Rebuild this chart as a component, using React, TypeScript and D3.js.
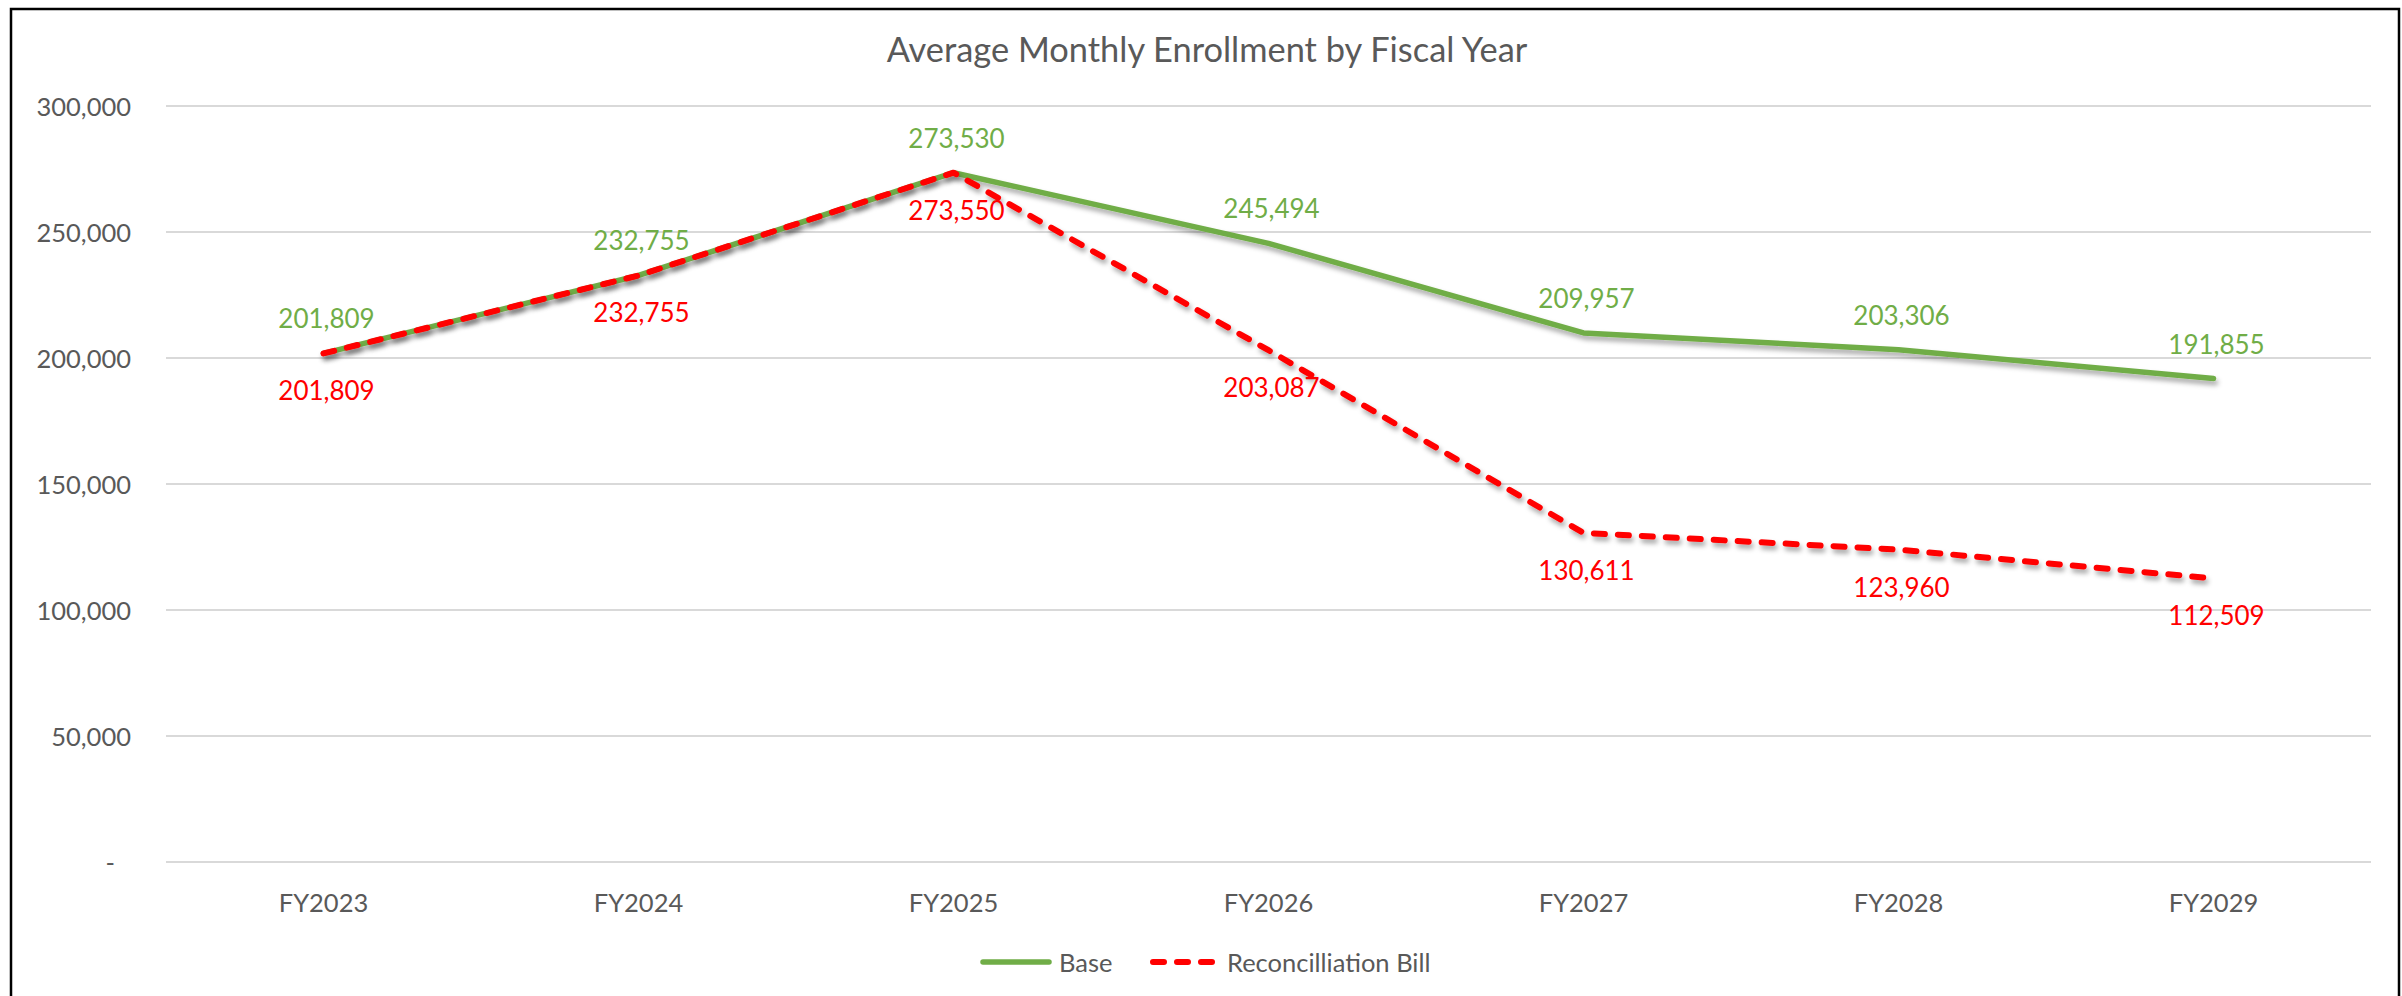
import { useEffect, useRef } from 'react';
import * as d3 from 'd3';

const years = ['FY2023', 'FY2024', 'FY2025', 'FY2026', 'FY2027', 'FY2028', 'FY2029'];
const baseValues = [201809, 232755, 273530, 245494, 209957, 203306, 191855];
const reconValues = [201809, 232755, 273550, 203087, 130611, 123960, 112509];
const yTicks = [0, 50000, 100000, 150000, 200000, 250000, 300000];

const GREEN = '#70AD47';
const RED = '#FF0000';
const TEXT = '#595959';
const FONT = 'Lato, "Open Sans", sans-serif';

const App = () => {
  const ref = useRef<SVGSVGElement | null>(null);
  const width = 2402;
  const height = 996;

  useEffect(() => {
    if (!ref.current) return;
    const svg = d3.select(ref.current);
    svg.selectAll('*').remove();

    const margin = { top: 106, right: 31, bottom: 134, left: 166 };
    const innerWidth = width - margin.left - margin.right;
    const innerHeight = height - margin.top - margin.bottom;

    const defs = svg.append('defs');
    const shadow = defs
      .append('filter')
      .attr('id', 'shadow')
      .attr('x', '-10%')
      .attr('y', '-10%')
      .attr('width', '120%')
      .attr('height', '130%');
    shadow
      .append('feDropShadow')
      .attr('dx', 2)
      .attr('dy', 4)
      .attr('stdDeviation', 2.5)
      .attr('flood-color', '#000')
      .attr('flood-opacity', 0.35);

    svg.append('rect').attr('width', width).attr('height', height).attr('fill', '#fff');

    // chart frame
    svg
      .append('rect')
      .attr('x', 11)
      .attr('y', 9)
      .attr('width', 2388)
      .attr('height', 1010)
      .attr('fill', 'none')
      .attr('stroke', '#000')
      .attr('stroke-width', 2.5);

    const g = svg.append('g').attr('transform', `translate(${margin.left},${margin.top})`);

    const x = d3.scaleBand().domain(years).range([0, innerWidth]);
    const y = d3.scaleLinear().domain([0, 300000]).range([innerHeight, 0]);
    const cx = (d: string) => (x(d) ?? 0) + x.bandwidth() / 2;

    // gridlines
    g.append('g')
      .selectAll('line')
      .data(yTicks)
      .enter()
      .append('line')
      .attr('x1', 0)
      .attr('x2', innerWidth)
      .attr('y1', (d) => y(d))
      .attr('y2', (d) => y(d))
      .attr('stroke', '#D9D9D9')
      .attr('stroke-width', 2);

    // y labels
    g.append('g')
      .selectAll('text')
      .data(yTicks)
      .enter()
      .append('text')
      .attr('x', (d) => (d === 0 ? -51 : -35))
      .attr('y', (d) => y(d) + 9.5)
      .attr('text-anchor', 'end')
      .attr('fill', TEXT)
      .style('font-family', FONT)
      .style('font-size', '25.5px')
      .text((d) => (d === 0 ? '-' : d3.format(',')(d)));

    // x labels
    g.append('g')
      .selectAll('text')
      .data(years)
      .enter()
      .append('text')
      .attr('x', (d) => cx(d))
      .attr('y', innerHeight + 50)
      .attr('text-anchor', 'middle')
      .attr('fill', TEXT)
      .style('font-family', FONT)
      .style('font-size', '25.5px')
      .text((d) => d);

    const line = d3
      .line<number>()
      .x((_, i) => cx(years[i]))
      .y((d) => y(d));

    g.append('path')
      .datum(baseValues)
      .attr('d', line)
      .attr('fill', 'none')
      .attr('stroke', GREEN)
      .attr('stroke-width', 5.5)
      .attr('stroke-linejoin', 'round')
      .attr('stroke-linecap', 'round')
      .attr('filter', 'url(#shadow)');

    g.append('path')
      .datum(reconValues)
      .attr('d', line)
      .attr('fill', 'none')
      .attr('stroke', RED)
      .attr('stroke-width', 6)
      .attr('stroke-dasharray', '11 13')
      .attr('stroke-linejoin', 'round')
      .attr('stroke-linecap', 'round')
      .attr('filter', 'url(#shadow)');

    // data labels
    g.append('g')
      .selectAll('text')
      .data(baseValues)
      .enter()
      .append('text')
      .attr('x', (_, i) => cx(years[i]) + 3)
      .attr('y', (d) => y(d) - 25)
      .attr('text-anchor', 'middle')
      .attr('fill', GREEN)
      .style('font-family', FONT)
      .style('font-size', '26px')
      .text((d) => d3.format(',')(d));

    g.append('g')
      .selectAll('text')
      .data(reconValues)
      .enter()
      .append('text')
      .attr('x', (_, i) => cx(years[i]) + 3)
      .attr('y', (d) => y(d) + 47)
      .attr('text-anchor', 'middle')
      .attr('fill', RED)
      .style('font-family', FONT)
      .style('font-size', '26px')
      .text((d) => d3.format(',')(d));

    // title
    svg
      .append('text')
      .attr('x', 1207)
      .attr('y', 62)
      .attr('text-anchor', 'middle')
      .attr('fill', TEXT)
      .style('font-family', FONT)
      .style('font-size', '34.4px')
      .text('Average Monthly Enrollment by Fiscal Year');

    // legend
    const legend = svg.append('g').attr('transform', 'translate(0,962)');
    legend
      .append('line')
      .attr('x1', 983)
      .attr('x2', 1049)
      .attr('stroke', GREEN)
      .attr('stroke-width', 5.5)
      .attr('stroke-linecap', 'round');
    legend
      .append('text')
      .attr('x', 1059)
      .attr('y', 9.5)
      .attr('fill', TEXT)
      .style('font-family', FONT)
      .style('font-size', '25.5px')
      .text('Base');
    legend
      .append('line')
      .attr('x1', 1153)
      .attr('x2', 1212)
      .attr('stroke', RED)
      .attr('stroke-width', 6)
      .attr('stroke-dasharray', '11 13')
      .attr('stroke-linecap', 'round');
    legend
      .append('text')
      .attr('x', 1227)
      .attr('y', 9.5)
      .attr('fill', TEXT)
      .style('font-family', FONT)
      .style('font-size', '25.5px')
      .text('Reconcilliation Bill');
  }, []);

  return (
    <svg
      ref={ref}
      width={width}
      height={height}
      style={{ position: 'absolute', left: 0, top: 0, display: 'block' }}
      role="img"
      aria-label="Average Monthly Enrollment by Fiscal Year"
    />
  );
};

export default App;
